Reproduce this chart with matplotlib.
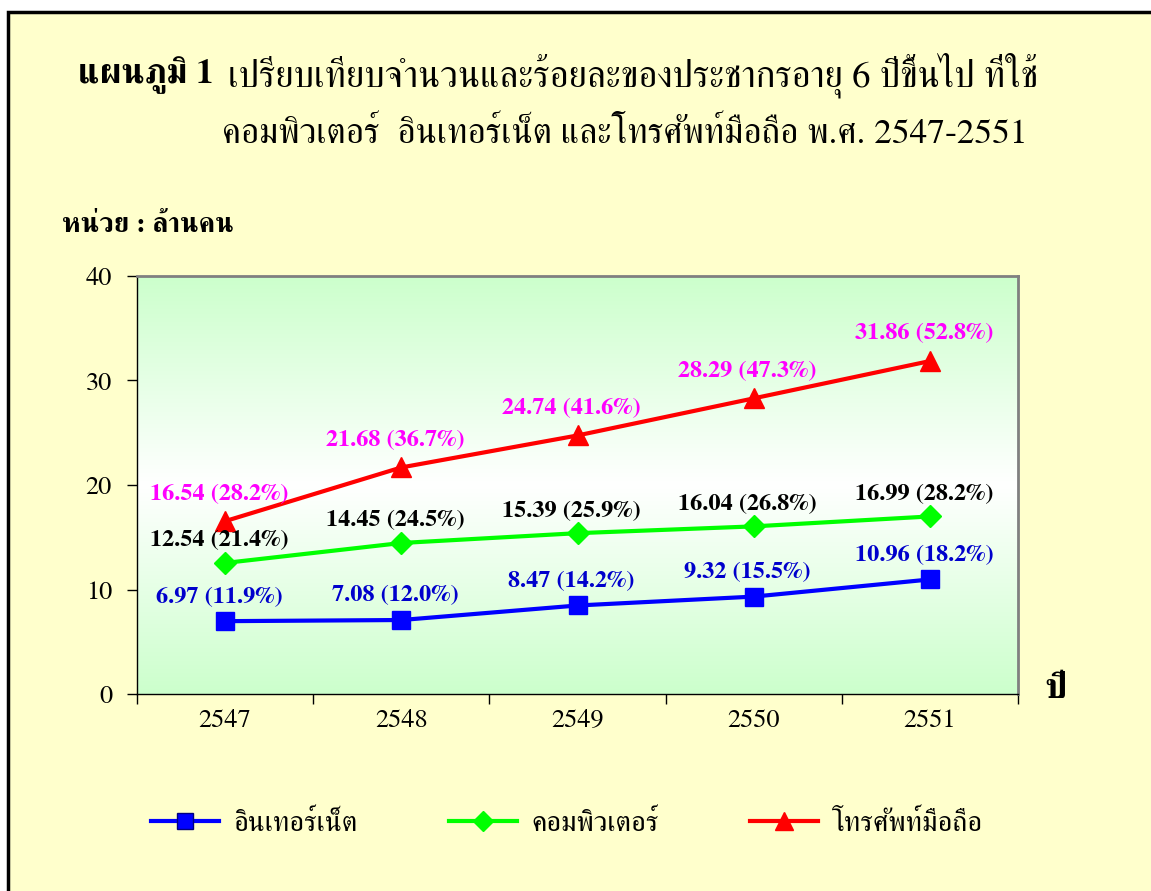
import matplotlib
matplotlib.use("Agg")
import matplotlib.pyplot as plt
from matplotlib.patches import Rectangle
from matplotlib.lines import Line2D
import numpy as np

plt.rcParams['font.family'] = ['FreeSerif', 'DejaVu Sans']

# data
years = ['2547', '2548', '2549', '2550', '2551']
internet = [6.97, 7.08, 8.47, 9.32, 10.96]
internet_pct = [11.9, 12.0, 14.2, 15.5, 18.2]
computer = [12.54, 14.45, 15.39, 16.04, 16.99]
computer_pct = [21.4, 24.5, 25.9, 26.8, 28.2]
mobile = [16.54, 21.68, 24.74, 28.29, 31.86]
mobile_pct = [28.2, 36.7, 41.6, 47.3, 52.8]
series_names = ['อินเทอร์เน็ต', 'คอมพิวเตอร์', 'โทรศัพท์มือถือ']
yticks = [0, 10, 20, 30, 40]

W, H = 1151, 891
fig = plt.figure(figsize=(W / 100, H / 100), dpi=100, facecolor='white')

# yellow page with black frame (only left/top edges visible)
fig.patches.append(Rectangle((8 / W, -0.1), 1.2, 1 - 12 / H + 0.1, transform=fig.transFigure,
                             facecolor='#FFFFCC', edgecolor='black', linewidth=2.5, zorder=-10))

ax = fig.add_axes([137 / W, 197 / H, 881 / W, 418 / H])
ax.set_facecolor('none')

# green-white-green gradient background
t = np.abs(np.linspace(-1, 1, 256))[:, None]
green = np.array([0xCC, 0xFF, 0xCC]) / 255
grad = (1 - t[..., None]) * np.ones(3) + t[..., None] * green
grad = np.repeat(grad, 2, axis=1)
ax.imshow(grad, extent=[-0.5, 4.5, 0, 40], aspect='auto', zorder=0, interpolation='bilinear')

x = np.arange(len(years))
ax.plot(x, internet, color='#0000FF', lw=3, marker='s', ms=13, mfc='#0000FF', mec='#0000FF', zorder=3)
ax.plot(x, computer, color='#00FF00', lw=3, marker='D', ms=11, mfc='#00FF00', mec='#00FF00', zorder=3)
ax.plot(x, mobile, color='#FF0000', lw=3, marker='^', ms=15, mfc='#FF0000', mec='#FF0000', zorder=3)

def label(vals, pcts, color, dy):
    for xi, v, p in zip(x, vals, pcts):
        ax.annotate(f'{v:.2f} ({p:.1f}%)', (xi, v), xytext=(-6, dy), textcoords='offset pixels',
                    ha='center', va='center', fontsize=17.5, fontweight='bold', color=color, zorder=4)

label(mobile, mobile_pct, '#FF00FF', 27)
label(computer, computer_pct, 'black', 22)
label(internet, internet_pct, '#0000CC', 24)

ax.set_xlim(-0.5, 4.5)
ax.set_ylim(0, 40)
ax.set_yticks(yticks)
ax.set_xticks(np.arange(-0.5, 5, 1))
ax.set_xticklabels([])
ax.set_xticks(x, minor=True)
ax.set_xticklabels(years, minor=True)
ax.tick_params(axis='x', which='major', direction='out', length=7, width=1)
ax.tick_params(axis='x', which='minor', length=0, pad=11, labelsize=19)
ax.tick_params(axis='y', direction='out', length=7, width=1, pad=11, labelsize=19)

for s in ['top', 'right']:
    ax.spines[s].set_color('#808080')
    ax.spines[s].set_linewidth(2)
for s in ['left', 'bottom']:
    ax.spines[s].set_color('black')
    ax.spines[s].set_linewidth(1)

# titles
fig.text(78 / W, 1 - 75 / H, 'แผนภูมิ 1', fontsize=25, fontweight='bold', va='center', ha='left')
fig.text(228 / W, 1 - 75 / H, 'เปรียบเทียบจำนวนและร้อยละของประชากรอายุ 6 ปีขึ้นไป ที่ใช้',
         fontsize=26.5, va='center', ha='left')
fig.text(222 / W, 1 - 135 / H, 'คอมพิวเตอร์  อินเทอร์เน็ต และโทรศัพท์มือถือ พ.ศ. 2547-2551',
         fontsize=25.5, va='center', ha='left')
fig.text(62 / W, 1 - 225 / H, 'หน่วย : ล้านคน', fontsize=20, fontweight='bold', va='center', ha='left')
fig.text(1056 / W, 1 - 690 / H, 'ปี', fontsize=26, fontweight='bold', va='center', ha='center')

# legend
handles = [
    Line2D([], [], color='#0000FF', lw=3, marker='s', ms=11, mfc='#0000FF', mec='#000080'),
    Line2D([], [], color='#00FF00', lw=3, marker='D', ms=10, mfc='#00FF00', mec='#00FF00'),
    Line2D([], [], color='#FF0000', lw=3, marker='^', ms=13, mfc='#FF0000', mec='#FF0000'),
]
fig.legend(handles, series_names, loc='center', bbox_to_anchor=(567 / W, 1 - 823 / H), ncol=3,
           frameon=False, fontsize=20.5, handlelength=2.4, handletextpad=0.5, columnspacing=3.2)

fig.savefig('out.png', dpi=100, facecolor=fig.get_facecolor())
